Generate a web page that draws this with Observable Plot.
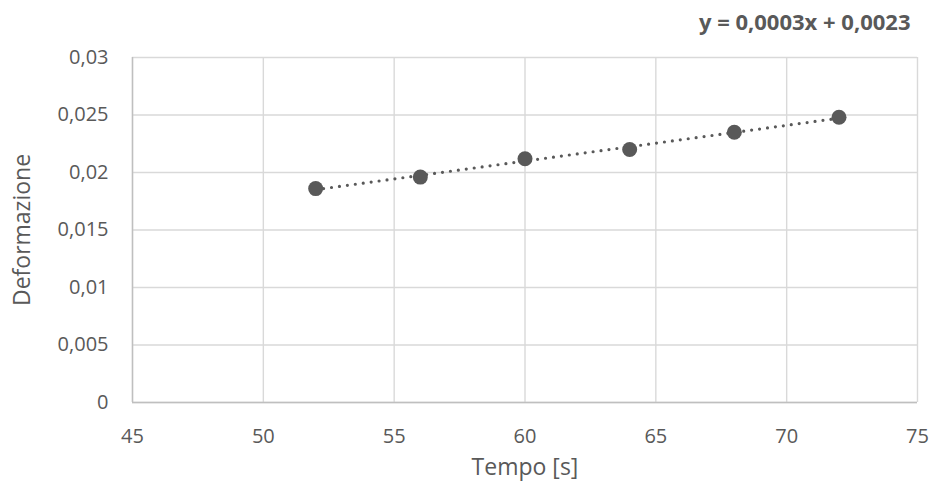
<!DOCTYPE html>
<html>
<head>
<meta charset="utf-8">
<script src="https://cdn.jsdelivr.net/npm/d3@7"></script>
<script src="https://cdn.jsdelivr.net/npm/@observablehq/plot@0.6"></script>
<style>
  html, body { margin: 0; padding: 0; background: #fff; }
  #chart { width: 931px; height: 486px; }
</style>
</head>
<body>
<div id="chart"></div>
<script>
// Misure: tempo [s] e deformazione
const tempo = [52, 56, 60, 64, 68, 72];
const deformazione = [0.0186, 0.0196, 0.0212, 0.0220, 0.0235, 0.0248];

// Tacche degli assi
const xTicks = [45, 50, 55, 60, 65, 70, 75];
const yTicks = [0, 0.005, 0.01, 0.015, 0.02, 0.025, 0.03];

// Testi
const xLabel = "Tempo [s]";
const yLabel = "Deformazione";
const equazione = "y = 0,0003x + 0,0023";

const data = tempo.map((t, i) => ({tempo: t, deformazione: deformazione[i]}));
const itFormat = (d) => String(d).replace(".", ",");

const textColor = "#595959";
const gridColor = "#d9d9d9";
const font = "'Open Sans', sans-serif";

const chart = Plot.plot({
  width: 931,
  height: 486,
  marginLeft: 132,
  marginRight: 14,
  marginTop: 57,
  marginBottom: 84,
  style: {fontFamily: font, fontSize: "20px", color: textColor, background: "#fff"},
  x: {domain: [45, 75]},
  y: {domain: [0, 0.03]},
  marks: [
    Plot.gridX(xTicks, {stroke: gridColor, strokeOpacity: 1, strokeWidth: 1.4}),
    Plot.gridY(yTicks, {stroke: gridColor, strokeOpacity: 1, strokeWidth: 1.4}),
    Plot.ruleY([0], {stroke: "#bfbfbf", strokeWidth: 1.4}),
    Plot.ruleX([45], {stroke: "#bfbfbf", strokeWidth: 1.4}),
    Plot.axisX(xTicks, {tickSize: 0, tickPadding: 26, tickFormat: itFormat, label: null, fill: textColor}),
    Plot.axisY(yTicks, {tickSize: 0, tickPadding: 24, tickFormat: itFormat, label: null, fill: textColor}),
    Plot.text([xLabel], {frameAnchor: "bottom", dy: 65, textAnchor: "middle", lineAnchor: "middle", fill: textColor, fontSize: 23}),
    Plot.text([yLabel], {frameAnchor: "left", dx: -110, rotate: -90, textAnchor: "middle", lineAnchor: "middle", fill: textColor, fontSize: 23}),
    Plot.linearRegressionY(data, {
      x: "tempo", y: "deformazione", ci: 0,
      stroke: textColor, strokeWidth: 3.2, strokeDasharray: "0,8", strokeLinecap: "round"
    }),
    Plot.dot(data, {x: "tempo", y: "deformazione", r: 7.5, fill: textColor}),
    Plot.text([equazione], {
      frameAnchor: "top-right", dx: -7, dy: -35, textAnchor: "end", lineAnchor: "middle",
      fill: textColor, fontSize: 22, fontWeight: "bold"
    })
  ]
});

document.getElementById("chart").append(chart);
</script>
</body>
</html>
